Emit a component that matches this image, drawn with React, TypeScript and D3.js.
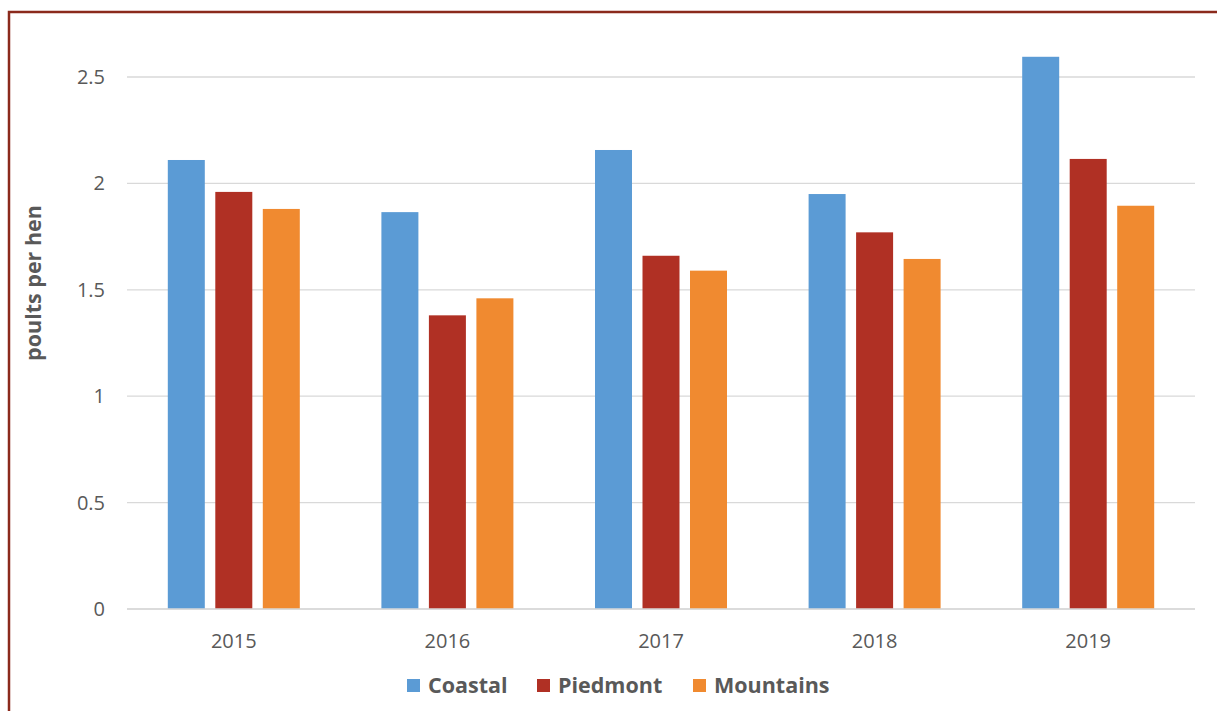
import { useEffect, useRef } from 'react';
import * as d3 from 'd3';

const years = ['2015', '2016', '2017', '2018', '2019'];
const seriesNames = ['Coastal', 'Piedmont', 'Mountains'];
const coastal = [2.11, 1.865, 2.157, 1.95, 2.595];
const piedmont = [1.96, 1.38, 1.66, 1.77, 2.115];
const mountains = [1.88, 1.46, 1.59, 1.645, 1.895];
const yTicks = [0, 0.5, 1, 1.5, 2, 2.5];
const seriesColors = ['#5b9bd5', '#b03024', '#f08a30'];

export default function App() {
  const svgRef = useRef<SVGSVGElement>(null);

  useEffect(() => {
    if (!svgRef.current) return;
    const width = 1217;
    const height = 711;
    const plot = { left: 127, right: 1195, top: 24, bottom: 609 };
    const font = "'Open Sans', 'Liberation Sans', sans-serif";

    const svg = d3.select(svgRef.current);
    svg.selectAll('*').remove();
    svg.attr('width', width).attr('height', height).style('display', 'block');

    svg.append('rect').attr('width', width).attr('height', height).attr('fill', '#fff');

    // frame
    svg
      .append('path')
      .attr('d', `M9,${height + 5} V12 H${width + 5}`)
      .attr('fill', 'none')
      .attr('stroke', '#8b2a1c')
      .attr('stroke-width', 2.5);

    const x = d3.scaleBand().domain(years).range([plot.left, plot.right]);
    const y = d3.scaleLinear().domain([0, 2.5]).range([plot.bottom, plot.bottom - 2.5 * 212.8]);

    const barW = 37;
    const step = 47.5;

    // gridlines
    svg
      .append('g')
      .selectAll('line')
      .data(yTicks)
      .join('line')
      .attr('x1', plot.left)
      .attr('x2', plot.right)
      .attr('y1', (d) => y(d))
      .attr('y2', (d) => y(d))
      .attr('stroke', '#d9d9d9')
      .attr('stroke-width', 1.3);

    svg
      .append('g')
      .selectAll('text')
      .data(yTicks)
      .join('text')
      .attr('x', 105)
      .attr('y', (d) => y(d))
      .attr('dy', '0.35em')
      .attr('text-anchor', 'end')
      .attr('font-family', font)
      .attr('font-size', 20)
      .attr('fill', '#595959')
      .text((d) => String(d));

    const all = [coastal, piedmont, mountains];
    const groups = svg.append('g');
    all.forEach((vals, si) => {
      groups
        .append('g')
        .selectAll('rect')
        .data(vals)
        .join('rect')
        .attr('x', (_, i) => x(years[i])! + x.bandwidth() / 2 - barW / 2 + (si - 1) * step)
        .attr('y', (d) => y(d))
        .attr('width', barW)
        .attr('height', (d) => y(0) - y(d))
        .attr('fill', seriesColors[si]);
    });

    // baseline
    svg
      .append('line')
      .attr('x1', plot.left)
      .attr('x2', plot.right)
      .attr('y1', y(0))
      .attr('y2', y(0))
      .attr('stroke', '#d9d9d9')
      .attr('stroke-width', 1.3);

    svg
      .append('g')
      .selectAll('text')
      .data(years)
      .join('text')
      .attr('x', (d) => x(d)! + x.bandwidth() / 2)
      .attr('y', 648)
      .attr('text-anchor', 'middle')
      .attr('font-family', font)
      .attr('font-size', 20)
      .attr('fill', '#595959')
      .text((d) => d);

    svg
      .append('text')
      .attr('transform', `translate(41,283) rotate(-90)`)
      .attr('text-anchor', 'middle')
      .attr('font-family', font)
      .attr('font-size', 21.5)
      .attr('font-weight', 'bold')
      .attr('fill', '#595959')
      .text('poults per hen');

    const legendX = [407, 537, 693];
    const legend = svg.append('g');
    seriesNames.forEach((name, i) => {
      legend
        .append('rect')
        .attr('x', legendX[i])
        .attr('y', 679)
        .attr('width', 13)
        .attr('height', 13)
        .attr('fill', seriesColors[i]);
      legend
        .append('text')
        .attr('x', legendX[i] + 21)
        .attr('y', 693)
        .attr('font-family', font)
        .attr('font-size', 21.5)
        .attr('font-weight', 'bold')
        .attr('fill', '#595959')
        .text(name);
    });
  }, []);

  return <svg ref={svgRef} style={{ position: 'absolute', left: 0, top: 0 }} />;
}
